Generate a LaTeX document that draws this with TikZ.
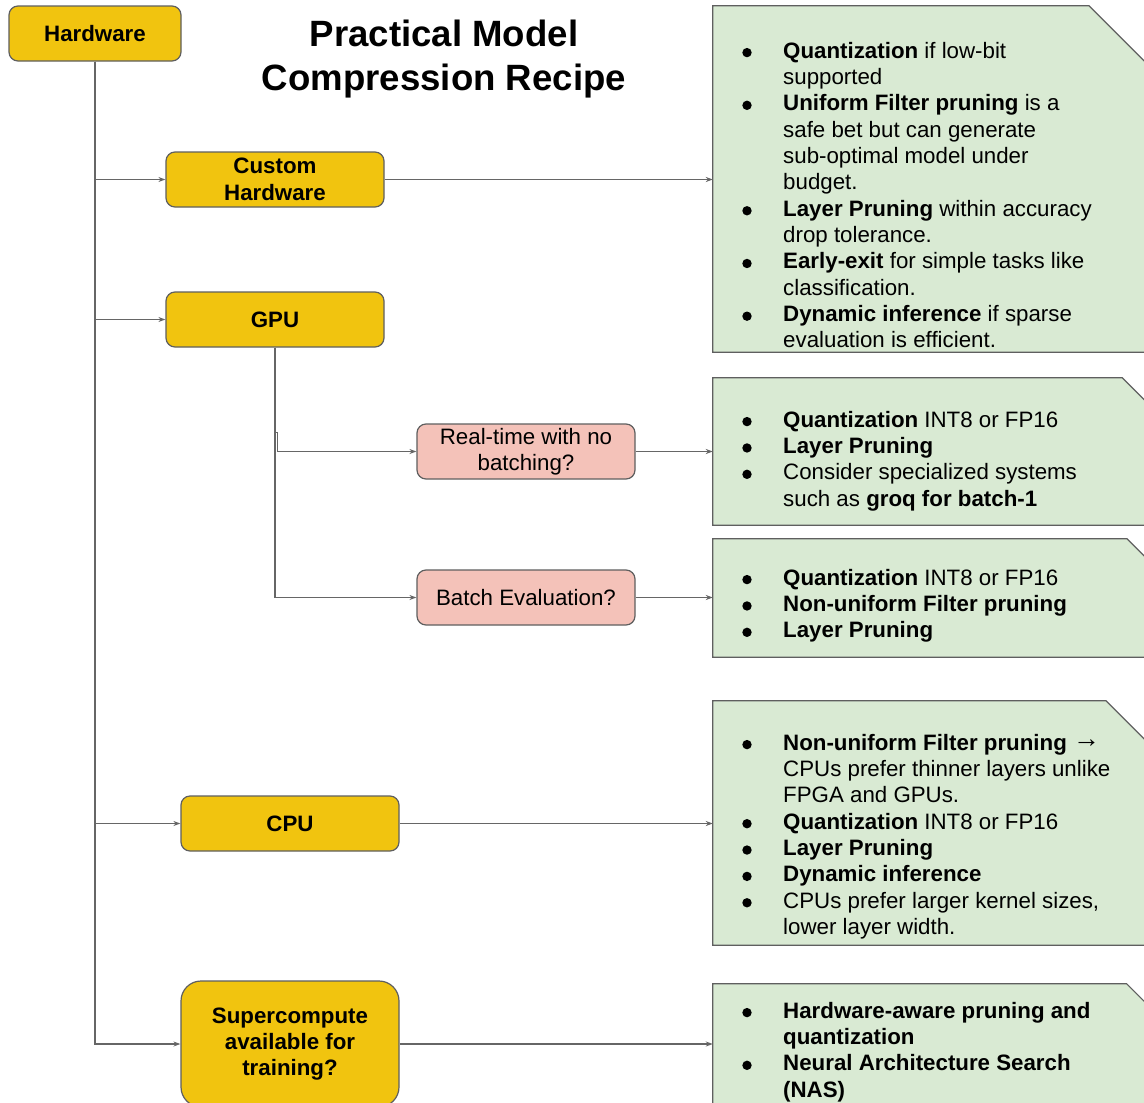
\documentclass[tikz,border=0pt]{standalone}
\usepackage{fontspec}
\setmainfont{Liberation Sans}
\usetikzlibrary{arrows.meta}

\definecolor{hwyellow}{RGB}{241,196,15}
\definecolor{qpink}{RGB}{244,194,185}
\definecolor{tipgreen}{RGB}{217,234,211}
\definecolor{edgegray}{RGB}{95,95,95}
\definecolor{linkgray}{RGB}{102,102,102}

\tikzset{
  x=1pt, y=-1pt,
  basebox/.style={draw=edgegray, line width=1.2pt, inner sep=0pt, align=center,
    font=\fontsize{22.3pt}{26.36pt}\selectfont},
  hwbox/.style={basebox, fill=hwyellow, rounded corners=9pt, font=\fontsize{22.3pt}{26.36pt}\selectfont\bfseries},
  qbox/.style={basebox, fill=qpink, rounded corners=9pt},
  tiparea/.style={inner sep=0pt, minimum width=433.5pt},
  tipshape/.style={draw=edgegray, line width=1.2pt, fill=tipgreen},
  % anchored at the baseline of the last line
  tiptext/.style={inner sep=0pt, anchor=base west, align=left,
    font=\fontsize{22.3pt}{26.36pt}\selectfont},
  link/.style={draw=linkgray, line width=1.2pt, -{Stealth[length=7pt,width=5pt]}},
  dot/.style={fill=black}
}

% green note box with a snipped top-right corner
\newcommand\tipbox[2]{%
  \path[tipshape] (#1.south west) -- (#1.north west)
    -- ([xshift=-#2pt]#1.north east) -- ([yshift=-#2pt]#1.north east)
    -- (#1.south east) -- cycle;}

% a slightly larger, raised arrow glyph
\newcommand\bigarrow{{\fontsize{27pt}{26.36pt}\selectfont\mdseries\raisebox{3pt}{→}}}

\begin{document}
\begin{tikzpicture}
\useasboundingbox[fill=white] (0,0) rectangle (1144,1103);

% title
\node[align=center, inner sep=0pt, anchor=base,
  font=\fontsize{36.6pt}{44pt}\selectfont\bfseries] (title) at (444,90)
  {Practical Model\\Compression Recipe};

% decision boxes
\node[hwbox, minimum width=172pt, minimum height=55pt] (hw) at (95,33.5) {Hardware};
\node[hwbox, minimum width=218pt, minimum height=55pt] (ch) at (275,179.5) {Custom\\Hardware};
\node[hwbox, minimum width=218pt, minimum height=55pt] (gpu) at (275,319.5) {GPU};
\node[qbox, minimum width=218pt, minimum height=55pt] (rt) at (526,451.5) {Real-time with no\\batching?};
\node[qbox, minimum width=218pt, minimum height=55pt] (be) at (526,597.5) {Batch Evaluation?};
\node[hwbox, minimum width=218pt, minimum height=55pt] (cpu) at (290,823.5) {CPU};
\node[hwbox, rounded corners=20pt, minimum width=218pt, minimum height=126pt] (sc) at (290,1044)
  {Supercompute\\available for\\training?};

% note areas
\node[tiparea, minimum height=346pt] (g1) at (929.75,179) {};
\node[tiparea, minimum height=147pt] (g2) at (929.75,451.5) {};
\node[tiparea, minimum height=118pt] (g3) at (929.75,598) {};
\node[tiparea, minimum height=244pt] (g4) at (929.75,823) {};
\node[tiparea, minimum height=120pt] (g5) at (929.75,1044) {};
\tipbox{g1}{57.7}
\tipbox{g2}{24.5}
\tipbox{g3}{19.7}
\tipbox{g4}{40.7}
\tipbox{g5}{20}

% note texts (first baselines: 58, 427, 585, 750, 1018)
\node[tiptext] (t1) at (783,{58+26.36*11}) {\textbf{Quantization} if low-bit\\
supported\\
\textbf{Uniform Filter pruning} is a\\
safe bet but can generate\\
sub-optimal model under\\
budget.\\
\textbf{Layer Pruning} within accuracy\\
drop tolerance.\\
\textbf{Early-exit} for simple tasks like\\
classification.\\
\textbf{Dynamic inference} if sparse\\
evaluation is efficient.};
\foreach \i in {0,2,6,8,10} \fill[dot] (747,{58+26.36*\i-5.4}) circle (4.7);

\node[tiptext] (t2) at (783,{427+26.36*3}) {\textbf{Quantization} INT8 or FP16\\
\textbf{Layer Pruning}\\
Consider specialized systems\\
such as \textbf{groq for batch-1}};
\foreach \i in {0,1,2} \fill[dot] (747,{427+26.36*\i-5.4}) circle (4.7);

\node[tiptext] (t3) at (783,{585+26.36*2}) {\textbf{Quantization} INT8 or FP16\\
\textbf{Non-uniform Filter pruning}\\
\textbf{Layer Pruning}};
\foreach \i in {0,1,2} \fill[dot] (747,{585+26.36*\i-5.4}) circle (4.7);

\node[tiptext] (t4) at (783,{750+26.36*7}) {\textbf{Non-uniform Filter pruning} \bigarrow\\
CPUs prefer thinner layers unlike\\
FPGA and GPUs.\\
\textbf{Quantization} INT8 or FP16\\
\textbf{Layer Pruning}\\
\textbf{Dynamic inference}\\
CPUs prefer larger kernel sizes,\\
lower layer width.};
\foreach \i in {0,3,4,5,6} \fill[dot] (747,{750+26.36*\i-5.4}) circle (4.7);

\node[tiptext, font=\fontsize{22.3pt}{26.36pt}\selectfont\bfseries] (t5) at (783,{1018+26.36*3})
{Hardware-aware pruning and\\
quantization\\
Neural Architecture Search\\
(NAS)};
\foreach \i in {0,2} \fill[dot] (747,{1018+26.36*\i-5.4}) circle (4.7);

% connectors
\draw[link] (hw.south) |- (ch.west);
\draw[link] (hw.south) |- (gpu.west);
\draw[link] (hw.south) |- (cpu.west);
\draw[link] (hw.south) |- (sc.west);
\draw[link] (gpu.south) -- ++(0,85) -- ++(2.5,0) |- (rt.west);
\draw[link] (gpu.south) |- (be.west);
\draw[link] (ch.east) -- (ch.east -| g1.west);
\draw[link] (rt.east) -- (rt.east -| g2.west);
\draw[link] (be.east) -- (be.east -| g3.west);
\draw[link] (cpu.east) -- (cpu.east -| g4.west);
\draw[link] (sc.east) -- (sc.east -| g5.west);
\end{tikzpicture}
\end{document}
